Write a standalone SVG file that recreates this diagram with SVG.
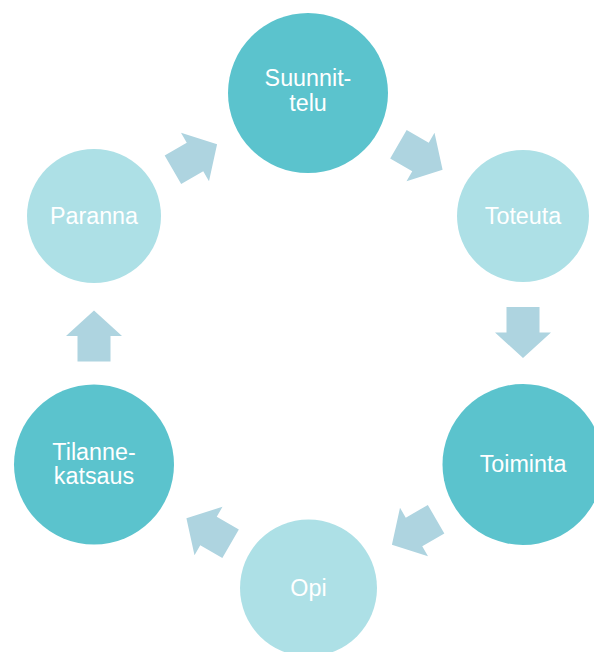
<svg xmlns="http://www.w3.org/2000/svg" width="594" height="652" viewBox="0 0 594 652">
<defs>
<style>
.dark{fill:#5BC3CD}
.light{fill:#ADE0E6}
.arrow{fill:#AED4E0}
text{font-family:"Liberation Sans",Arial,sans-serif;font-size:23.3px;fill:#FFFFFF;text-anchor:middle}
</style>
<polygon id="arr" points="-25.5,-16.5 0,-16.5 0,-28 25.5,0 0,28 0,16.5 -25.5,16.5"/>
</defs>
<rect width="594" height="652" fill="#FFFFFF"/>
<g id="connectors">
<use href="#arr" class="arrow" transform="translate(420.5,157) rotate(30)"/>
<use href="#arr" class="arrow" transform="translate(523,332.5) rotate(90)"/>
<use href="#arr" class="arrow" transform="translate(414,532) rotate(150)"/>
<use href="#arr" class="arrow" transform="translate(208.5,531) rotate(210)"/>
<use href="#arr" class="arrow" transform="translate(94,336) rotate(270)"/>
<use href="#arr" class="arrow" transform="translate(195,157) rotate(330)"/>
</g>
<g id="suunnittelu">
<circle class="dark" cx="308" cy="93" r="80"/>
<text x="308" y="86">Suunnit-</text>
<text x="308" y="111">telu</text>
</g>
<g id="toteuta">
<circle class="light" cx="523" cy="216" r="66"/>
<text x="523" y="224">Toteuta</text>
</g>
<g id="toiminta">
<circle class="dark" cx="523" cy="464.5" r="80.5"/>
<text x="523" y="472">Toiminta</text>
</g>
<g id="opi">
<circle class="light" cx="308.5" cy="588" r="68.5"/>
<text x="308.5" y="596">Opi</text>
</g>
<g id="tilannekatsaus">
<circle class="dark" cx="94" cy="464.5" r="80"/>
<text x="94" y="460">Tilanne-</text>
<text x="94" y="484">katsaus</text>
</g>
<g id="paranna">
<circle class="light" cx="94" cy="216" r="67"/>
<text x="94" y="224">Paranna</text>
</g>
</svg>
